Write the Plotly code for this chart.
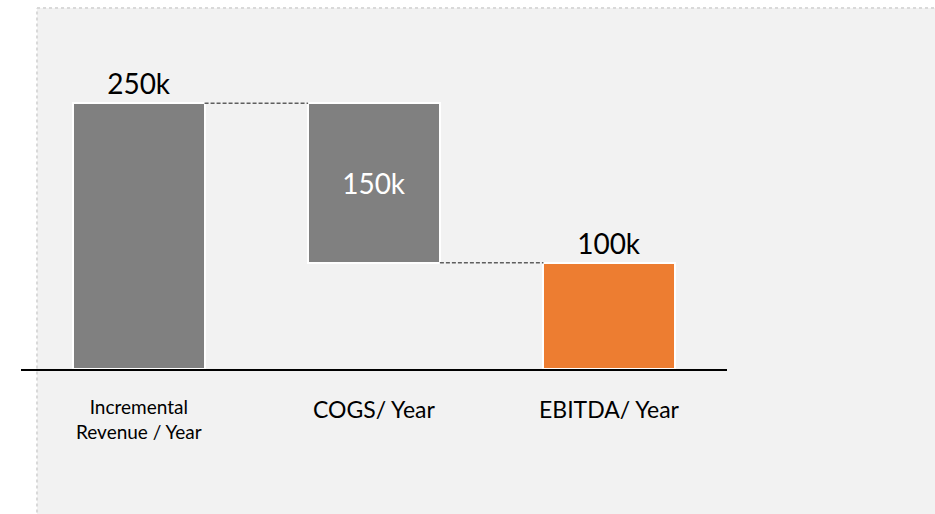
import plotly.graph_objects as go

# waterfall data (thousands)
categories = ["Incremental Revenue / Year", "COGS/ Year", "EBITDA/ Year"]
tick_labels = ["Incremental<br>Revenue / Year", "COGS/ Year", "EBITDA/ Year"]
values = [250, 150, 100]
measures = ["absolute", "decrease", "total"]
bar_colors = ["#808080", "#808080", "#ED7D31"]

# bases for floating bars
bases = []
running = 0
for v, m in zip(values, measures):
    if m == "absolute":
        bases.append(0)
        running = v
    elif m == "decrease":
        running = running - v
        bases.append(running)
    else:
        bases.append(0)
tops = [b + v for b, v in zip(bases, values)]
labels = [f"{v}k" for v in values]

bar_width = 0.56
FONT = "Lato"

fig = go.Figure()
fig.add_trace(go.Bar(
    x=list(range(len(categories))),
    y=values,
    base=bases,
    width=bar_width,
    marker=dict(color=bar_colors, line=dict(color="white", width=2)),
    text=labels,
    textposition=["outside", "inside", "outside"],
    insidetextanchor="middle",
    textfont=dict(family=FONT, size=28, color=["black", "white", "black"]),
    cliponaxis=False,
    hoverinfo="skip",
))

panel_border = dict(color="#D9D9D9", width=2, dash="dot")
shapes = [
    # grey panel behind the chart (only left and top edges are visible)
    dict(type="rect", xref="paper", yref="paper", x0=0.0227, x1=1.35, y0=-0.6, y1=1.1317,
         fillcolor="#F2F2F2", line=dict(width=0), layer="below"),
    dict(type="line", xref="paper", yref="paper", x0=0.0227, x1=0.0227, y0=-0.6, y1=1.1317,
         line=panel_border, layer="below"),
    dict(type="line", xref="paper", yref="paper", x0=0.0227, x1=1.35, y0=1.1317, y1=1.1317,
         line=panel_border, layer="below"),
]
# dashed connectors between consecutive bars
for i in range(len(values) - 1):
    level = tops[i] if measures[i] == "absolute" else bases[i]
    shapes.append(dict(type="line", xref="x", yref="y",
                       x0=i + bar_width / 2, x1=i + 1 - bar_width / 2, y0=level, y1=level,
                       line=dict(color="#5F5F5F", width=1.5, dash="4px,2px")))

annotations = []
for i, t in enumerate(tick_labels):
    small = "<br>" in t
    annotations.append(dict(
        x=i, xref="x", y=0, yref="paper", yanchor="middle", xanchor="center",
        yshift=-50 if small else -40, text=t, showarrow=False,
        font=dict(family=FONT, size=19 if small else 23, color="black"),
    ))

fig.update_layout(
    width=935, height=514,
    margin=dict(l=21, r=208, t=50, b=145),
    paper_bgcolor="white",
    plot_bgcolor="rgba(0,0,0,0)",
    showlegend=False,
    bargap=0,
    shapes=shapes,
    annotations=annotations,
    xaxis=dict(range=[-0.5, 2.5], showticklabels=False, showgrid=False, zeroline=False,
               showline=True, linecolor="black", linewidth=2, ticks="", fixedrange=True),
    yaxis=dict(range=[0, 300], visible=False, fixedrange=True),
    font=dict(family=FONT),
)

# drop the default 8px body margin so the figure fills the window
fig.write_html("out.html", config={"displayModeBar": False},
               post_script="document.body.style.margin='0';document.body.style.overflow='hidden';")
